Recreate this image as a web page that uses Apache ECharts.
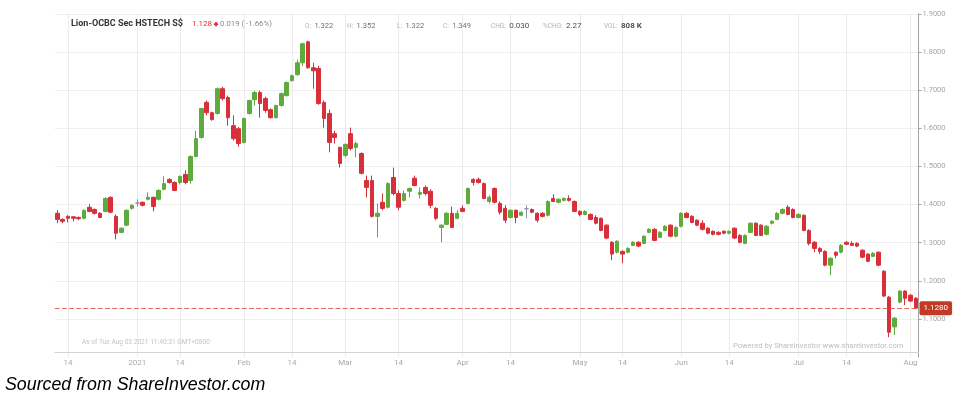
<!DOCTYPE html>
<html>
<head>
<meta charset="utf-8">
<title>Lion-OCBC Sec HSTECH S$</title>
<script src="https://cdn.jsdelivr.net/npm/echarts@6/dist/echarts.min.js"></script>
<style>
html, body { margin: 0; padding: 0; background: #fff; }
#chart { width: 961px; height: 399px; }
</style>
</head>
<body>
<div id="chart"></div>
<script>
// SGX trading days between first and last candle (market holidays skipped)
var firstDay = '2020-12-10';
var lastDay = '2021-08-03';
var holidays = ['2020-12-25', '2021-01-01', '2021-02-12', '2021-04-02', '2021-05-13', '2021-05-26', '2021-07-20'];

// OHLC
var opens = [
  1.377, 1.361, 1.369, 1.368, 1.366, 1.364, 1.393, 1.387, 1.377, 1.382,
  1.419, 1.369, 1.327, 1.346, 1.390, 1.404, 1.406, 1.414, 1.419, 1.414,
  1.440, 1.466, 1.458, 1.458, 1.479, 1.463, 1.526, 1.576, 1.668, 1.641,
  1.639, 1.704, 1.681, 1.607, 1.599, 1.563, 1.639, 1.675, 1.694, 1.678,
  1.649, 1.628, 1.660, 1.686, 1.725, 1.741, 1.772, 1.827, 1.759, 1.757,
  1.668, 1.639, 1.586, 1.550, 1.529, 1.586, 1.550, 1.534, 1.463, 1.463,
  1.369, 1.406, 1.393, 1.471, 1.429, 1.411, 1.435, 1.469, 1.427, 1.445,
  1.435, 1.390, 1.340, 1.348, 1.377, 1.364, 1.390, 1.403, 1.466, 1.466,
  1.455, 1.408, 1.442, 1.403, 1.390, 1.366, 1.385, 1.372, 1.389, 1.387,
  1.377, 1.377, 1.372, 1.416, 1.406, 1.411, 1.416, 1.408, 1.382, 1.374,
  1.374, 1.366, 1.364, 1.346, 1.301, 1.275, 1.277, 1.275, 1.293, 1.301,
  1.298, 1.327, 1.335, 1.314, 1.332, 1.346, 1.317, 1.343, 1.377, 1.369,
  1.359, 1.351, 1.338, 1.330, 1.327, 1.330, 1.325, 1.338, 1.319, 1.298,
  1.327, 1.351, 1.346, 1.322, 1.351, 1.361, 1.377, 1.393, 1.387, 1.366,
  1.372, 1.332, 1.301, 1.285, 1.277, 1.241, 1.275, 1.275, 1.301, 1.298,
  1.298, 1.280, 1.270, 1.264, 1.275, 1.225, 1.157, 1.079, 1.144, 1.173,
  1.162, 1.154
];
var closes = [
  1.361, 1.356, 1.364, 1.364, 1.363, 1.385, 1.382, 1.377, 1.366, 1.416,
  1.380, 1.325, 1.338, 1.385, 1.398, 1.404, 1.398, 1.419, 1.395, 1.437,
  1.455, 1.458, 1.437, 1.474, 1.458, 1.526, 1.573, 1.652, 1.641, 1.623,
  1.704, 1.678, 1.628, 1.573, 1.560, 1.626, 1.673, 1.694, 1.665, 1.647,
  1.628, 1.660, 1.691, 1.720, 1.738, 1.772, 1.822, 1.759, 1.751, 1.665,
  1.626, 1.563, 1.576, 1.508, 1.558, 1.547, 1.560, 1.482, 1.445, 1.369,
  1.377, 1.390, 1.455, 1.429, 1.393, 1.429, 1.442, 1.450, 1.432, 1.429,
  1.398, 1.364, 1.346, 1.377, 1.340, 1.377, 1.382, 1.442, 1.458, 1.458,
  1.416, 1.419, 1.406, 1.380, 1.359, 1.385, 1.366, 1.380, 1.389, 1.380,
  1.359, 1.369, 1.408, 1.408, 1.414, 1.416, 1.411, 1.382, 1.374, 1.382,
  1.361, 1.351, 1.332, 1.312, 1.270, 1.304, 1.270, 1.285, 1.301, 1.291,
  1.317, 1.335, 1.306, 1.327, 1.343, 1.317, 1.340, 1.377, 1.366, 1.353,
  1.346, 1.335, 1.325, 1.322, 1.322, 1.325, 1.330, 1.312, 1.301, 1.319,
  1.351, 1.319, 1.319, 1.343, 1.356, 1.377, 1.387, 1.374, 1.366, 1.374,
  1.332, 1.298, 1.285, 1.277, 1.241, 1.259, 1.267, 1.293, 1.296, 1.293,
  1.291, 1.262, 1.251, 1.272, 1.241, 1.160, 1.065, 1.102, 1.173, 1.154,
  1.147, 1.128
];
var lows = [
  1.351, 1.351, 1.353, 1.356, 1.359, 1.361, 1.380, 1.374, 1.364, 1.380,
  1.377, 1.309, 1.325, 1.343, 1.387, 1.395, 1.395, 1.411, 1.382, 1.411,
  1.437, 1.455, 1.435, 1.453, 1.453, 1.455, 1.524, 1.573, 1.634, 1.620,
  1.636, 1.673, 1.607, 1.568, 1.552, 1.560, 1.636, 1.660, 1.628, 1.641,
  1.626, 1.626, 1.657, 1.683, 1.723, 1.738, 1.764, 1.757, 1.704, 1.662,
  1.602, 1.537, 1.560, 1.497, 1.524, 1.542, 1.524, 1.479, 1.419, 1.366,
  1.314, 1.385, 1.390, 1.424, 1.385, 1.408, 1.419, 1.448, 1.416, 1.424,
  1.390, 1.359, 1.301, 1.346, 1.338, 1.361, 1.380, 1.401, 1.450, 1.455,
  1.414, 1.403, 1.403, 1.374, 1.351, 1.364, 1.351, 1.369, 1.364, 1.377,
  1.353, 1.366, 1.369, 1.406, 1.403, 1.408, 1.408, 1.380, 1.369, 1.372,
  1.359, 1.348, 1.330, 1.309, 1.254, 1.272, 1.246, 1.272, 1.291, 1.288,
  1.296, 1.325, 1.304, 1.312, 1.330, 1.314, 1.314, 1.340, 1.364, 1.351,
  1.343, 1.332, 1.322, 1.319, 1.319, 1.322, 1.322, 1.309, 1.298, 1.296,
  1.325, 1.317, 1.317, 1.319, 1.348, 1.359, 1.374, 1.372, 1.364, 1.364,
  1.330, 1.293, 1.275, 1.270, 1.238, 1.215, 1.259, 1.272, 1.293, 1.291,
  1.288, 1.259, 1.249, 1.262, 1.238, 1.157, 1.052, 1.058, 1.141, 1.136,
  1.144, 1.125
];
var highs = [
  1.385, 1.364, 1.372, 1.369, 1.369, 1.387, 1.401, 1.390, 1.380, 1.419,
  1.421, 1.374, 1.340, 1.387, 1.401, 1.414, 1.408, 1.432, 1.421, 1.440,
  1.474, 1.469, 1.461, 1.476, 1.490, 1.529, 1.594, 1.654, 1.673, 1.644,
  1.707, 1.709, 1.686, 1.634, 1.604, 1.628, 1.675, 1.699, 1.699, 1.683,
  1.652, 1.662, 1.694, 1.723, 1.741, 1.780, 1.825, 1.830, 1.772, 1.764,
  1.673, 1.649, 1.594, 1.552, 1.560, 1.602, 1.565, 1.537, 1.476, 1.476,
  1.403, 1.429, 1.458, 1.497, 1.437, 1.437, 1.445, 1.476, 1.445, 1.450,
  1.440, 1.393, 1.348, 1.380, 1.395, 1.385, 1.398, 1.445, 1.469, 1.471,
  1.458, 1.424, 1.445, 1.408, 1.398, 1.387, 1.387, 1.382, 1.398, 1.390,
  1.380, 1.380, 1.411, 1.427, 1.416, 1.419, 1.424, 1.411, 1.385, 1.385,
  1.377, 1.372, 1.366, 1.348, 1.304, 1.306, 1.280, 1.288, 1.304, 1.304,
  1.319, 1.338, 1.338, 1.330, 1.346, 1.348, 1.343, 1.380, 1.380, 1.372,
  1.361, 1.359, 1.340, 1.332, 1.330, 1.332, 1.332, 1.340, 1.322, 1.322,
  1.353, 1.353, 1.348, 1.346, 1.359, 1.380, 1.390, 1.398, 1.390, 1.377,
  1.374, 1.335, 1.304, 1.288, 1.280, 1.262, 1.277, 1.296, 1.304, 1.304,
  1.301, 1.283, 1.272, 1.275, 1.277, 1.228, 1.160, 1.105, 1.175, 1.175,
  1.165, 1.157
];

var lastPrice = 1.128;

// x axis marks
var tickDates = ['2020-12-14', '2021-01-04', '2021-01-14', '2021-02-01', '2021-02-15', '2021-03-01',
  '2021-03-15', '2021-03-31', '2021-04-14', '2021-05-03', '2021-05-14', '2021-06-01',
  '2021-06-14', '2021-07-01', '2021-07-14', '2021-08-02'];
var tickLabels = ['14', '2021', '14', 'Feb', '14', 'Mar', '14', 'Apr', '14', 'May', '14', 'Jun',
  '14', 'Jul', '14', 'Aug'];

// quote header
var quoteKeys = ['O:', 'H:', 'L:', 'C:', 'CHG:', '%CHG:', 'VOL:'];
var quoteValues = ['1.322', '1.352', '1.322', '1.349', '0.030', '2.27', '808 K'];

function ymd(d) {
  return d.toISOString().slice(0, 10);
}

function tradingDays(from, to, skip) {
  var out = [];
  var d = new Date(from + 'T00:00:00Z');
  var end = new Date(to + 'T00:00:00Z');
  while (d <= end) {
    var wd = d.getUTCDay();
    var s = ymd(d);
    if (wd !== 0 && wd !== 6 && skip.indexOf(s) < 0) out.push(s);
    d.setUTCDate(d.getUTCDate() + 1);
  }
  return out;
}

var days = tradingDays(firstDay, lastDay, holidays);

var tickByIndex = {};
tickDates.forEach(function (t, k) {
  var i = days.indexOf(t);
  if (i >= 0) tickByIndex[i] = tickLabels[k];
});
function isTick(i) {
  return tickByIndex[i] !== undefined;
}

var candles = days.map(function (d, i) {
  return [opens[i], closes[i], lows[i], highs[i]];
});

var GREEN = '#5dab3c';
var RED = '#d7303a';
var LAST_LINE = '#e4675c';
var FONT = 'Roboto';

// header pieces, left edges as in the picture
var quoteLeft = [305, 347, 397, 443, 491, 543, 604];
var quoteGraphics = quoteKeys.map(function (k, i) {
  var strong = i >= 4;
  return {
    type: 'text', left: quoteLeft[i], top: 20, z: 10,
    style: {
      text: '{k|' + k + '} {v|' + quoteValues[i] + '}',
      rich: {
        k: { fill: '#b3b3b3', font: '6.5px Roboto' },
        v: { fill: strong ? '#505050' : '#707070', font: (i === 6 ? 'bold ' : '') + (strong ? '8px' : '7.5px') + ' Roboto' }
      }
    }
  };
});

var chart = echarts.init(document.getElementById('chart'), null, { renderer: 'canvas' });

chart.setOption({
  animation: false,
  backgroundColor: '#fff',
  grid: { left: 54.7, right: 42.5, top: 14, bottom: 42 },
  xAxis: {
    type: 'category',
    data: days,
    boundaryGap: true,
    offset: -5,
    axisLine: { show: true, lineStyle: { color: '#d4d4d4' } },
    axisTick: { show: false },
    axisLabel: {
      interval: function (i) { return isTick(i); },
      formatter: function (v, i) { return tickByIndex[i]; },
      color: '#a9a9a9',
      fontFamily: FONT,
      fontSize: 8,
      margin: 7
    },
    splitLine: {
      show: true,
      interval: function (i) { return isTick(i); },
      alignWithLabel: true,
      lineStyle: { color: '#ebebeb' }
    }
  },
  yAxis: {
    type: 'value',
    position: 'right',
    min: 1.0,
    max: 1.9,
    interval: 0.1,
    axisLine: { show: true, lineStyle: { color: '#a3a3a3' } },
    axisTick: { show: true, length: 3, lineStyle: { color: '#a3a3a3' } },
    axisLabel: {
      formatter: function (v) { return v.toFixed(4); },
      color: '#a6a6a6',
      fontFamily: FONT,
      fontSize: 7.5,
      margin: 4,
      showMinLabel: false
    },
    splitLine: { show: true, showMinLine: false, lineStyle: { color: '#efefef' } }
  },
  series: [
    {
      type: 'candlestick',
      data: candles,
      barWidth: '74%',
      z: 3,
      itemStyle: {
        color: GREEN,
        color0: RED,
        borderColor: GREEN,
        borderColor0: RED,
        borderColorDoji: '#8795a8',
        borderWidth: 1
      }
    },
    {
      // carries only the last-price line
      type: 'line',
      data: [],
      z: 2,
      color: LAST_LINE,
      lineStyle: { color: LAST_LINE },
      itemStyle: { color: LAST_LINE },
      markLine: {
        silent: true,
        symbol: ['none', 'none'],
        precision: 4,
        lineStyle: { color: LAST_LINE, type: 'dashed', dashOffset: 0, width: 1.2, opacity: 1 },
        emphasis: { disabled: true },
        label: {
          show: true,
          position: 'end',
          distance: 1,
          formatter: function () { return lastPrice.toFixed(4); },
          color: '#fff',
          fontFamily: FONT,
          fontSize: 8,
          backgroundColor: '#c23a26',
          borderRadius: 2,
          padding: [3, 4, 3, 4]
        },
        data: [{ yAxis: lastPrice, lineStyle: { color: LAST_LINE } }]
      }
    }
  ],
  graphic: [
    {
      type: 'text', left: 71, top: 19.5, z: 10,
      style: { text: 'Lion-OCBC Sec HSTECH S$', fill: '#333', font: 'bold 9px Roboto' }
    },
    {
      type: 'text', left: 192, top: 20, z: 10,
      style: { text: '1.128', fill: '#e0303c', font: '8px Roboto' }
    },
    {
      type: 'text', left: 213.5, top: 21, z: 10,
      style: { text: '◆', fill: '#e0303c', font: '6.5px "DejaVu Sans"' }
    },
    {
      type: 'text', left: 220, top: 20, z: 10,
      style: { text: '0.019 ( -1.66%)', fill: '#8a8a8a', font: '7.8px Roboto' }
    }
  ].concat(quoteGraphics).concat([
    {
      type: 'text', left: 82, top: 339, z: 10,
      style: { text: 'As of Tue Aug 03 2021 11:40:31 GMT+0800', fill: '#c4c4c4', font: '6.6px Roboto' }
    },
    {
      type: 'text', left: 733, top: 342, z: 10,
      style: { text: 'Powered by ShareInvestor www.shareinvestor.com', fill: '#bdbdbd', font: '7.6px Roboto' }
    },
    {
      type: 'text', left: 5, top: 376,
      style: { text: 'Sourced from ShareInvestor.com', fill: '#000', font: 'italic 17.8px "Liberation Sans"' }
    }
  ])
});

window.addEventListener('resize', function () { chart.resize(); });
</script>
</body>
</html>
